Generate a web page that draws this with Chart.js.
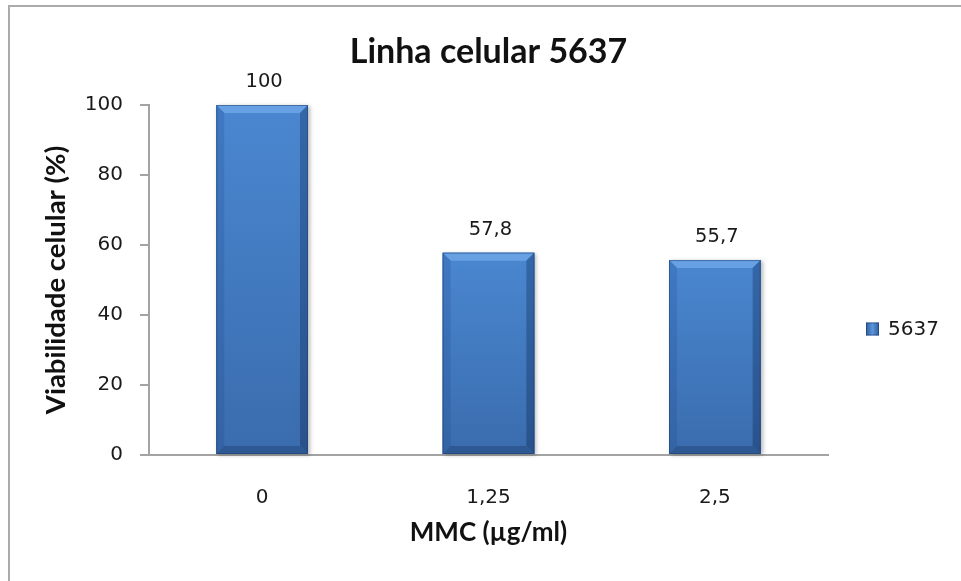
<!DOCTYPE html>
<html>
<head>
<meta charset="utf-8">
<script src="https://cdn.jsdelivr.net/npm/chart.js@4.4.1/dist/chart.umd.min.js"></script>
<style>
  html, body { margin: 0; padding: 0; background: #fff; }
  #wrap { width: 961px; height: 581px; position: relative; }
</style>
</head>
<body>
<div id="wrap"><canvas id="c" width="961" height="581"></canvas></div>
<script>
const chartTitle = 'Linha celular 5637';
const seriesName = '5637';
const categories = ['0', '1,25', '2,5'];
const viability = [100, 57.8, 55.7];
const yTicks = [0, 20, 40, 60, 80, 100];
const xAxisTitle = 'MMC (µg/ml)';
const yAxisTitle = 'Viabilidade celular (%)';

const AXIS_GREY = '#a3a3a3';
const TEXT = '#1a1a1a';
const BOLD_FONT = 'Lato';
const TICK_FONT = 'DejaVu Sans';

function fmt(v) { return String(v).replace('.', ','); }

const frame = {
  id: 'frame',
  beforeDraw(chart) {
    const ctx = chart.ctx;
    ctx.save();
    ctx.fillStyle = '#fff';
    ctx.fillRect(0, 0, chart.width, chart.height);
    ctx.strokeStyle = '#ababab';
    ctx.lineWidth = 2;
    ctx.strokeRect(9, 6, chart.width + 20, chart.height + 20);
    ctx.restore();
  }
};

const bevelBars = {
  id: 'bevelBars',
  afterDatasetsDraw(chart) {
    const ctx = chart.ctx;
    const meta = chart.getDatasetMeta(0);
    meta.data.forEach((bar) => {
      const p = bar.getProps(['x', 'y', 'base', 'width'], true);
      const L = p.x - p.width / 2, R = p.x + p.width / 2, T = p.y, B = p.base;
      const bv = 8;
      ctx.save();
      ctx.shadowColor = 'rgba(0,0,0,0.28)';
      ctx.shadowBlur = 4;
      ctx.shadowOffsetX = 2;
      ctx.shadowOffsetY = 1;
      let g = ctx.createLinearGradient(0, T, 0, B);
      g.addColorStop(0, '#4a87d0');
      g.addColorStop(1, '#3a6cae');
      ctx.fillStyle = g;
      ctx.fillRect(L, T, R - L, B - T);
      ctx.shadowColor = 'transparent';
      ctx.fillStyle = '#67a0e3';
      ctx.beginPath();
      ctx.moveTo(L, T); ctx.lineTo(R, T); ctx.lineTo(R - bv, T + bv); ctx.lineTo(L + bv, T + bv); ctx.closePath();
      ctx.fill();
      g = ctx.createLinearGradient(0, T, 0, B);
      g.addColorStop(0, '#4079c2');
      g.addColorStop(1, '#3363a4');
      ctx.fillStyle = g;
      ctx.beginPath();
      ctx.moveTo(L, T); ctx.lineTo(L + bv, T + bv); ctx.lineTo(L + bv, B - bv); ctx.lineTo(L, B); ctx.closePath();
      ctx.fill();
      g = ctx.createLinearGradient(0, T, 0, B);
      g.addColorStop(0, '#3467a8');
      g.addColorStop(1, '#29528c');
      ctx.fillStyle = g;
      ctx.beginPath();
      ctx.moveTo(R, T); ctx.lineTo(R, B); ctx.lineTo(R - bv, B - bv); ctx.lineTo(R - bv, T + bv); ctx.closePath();
      ctx.fill();
      ctx.fillStyle = '#2d5892';
      ctx.beginPath();
      ctx.moveTo(L, B); ctx.lineTo(L + bv, B - bv); ctx.lineTo(R - bv, B - bv); ctx.lineTo(R, B); ctx.closePath();
      ctx.fill();
      ctx.strokeStyle = 'rgba(30,60,110,0.5)';
      ctx.lineWidth = 1;
      ctx.strokeRect(L + 0.5, T + 0.5, R - L - 1, B - T - 1);
      ctx.restore();
    });
    ctx.save();
    ctx.font = '19.5px "' + TICK_FONT + '"';
    ctx.fillStyle = TEXT;
    ctx.textAlign = 'center';
    ctx.textBaseline = 'middle';
    meta.data.forEach((bar, i) => {
      ctx.fillText(fmt(viability[i]), bar.x + 2, bar.y - 23);
    });
    ctx.restore();
  }
};

const sideLegend = {
  id: 'sideLegend',
  afterDraw(chart) {
    const ctx = chart.ctx;
    const a = chart.chartArea;
    const x = a.right + 38;
    const y = (a.top + a.bottom) / 2 + 49;
    ctx.save();
    const s = 13;
    const g = ctx.createLinearGradient(x, 0, x + s, 0);
    g.addColorStop(0, '#2f5f9e');
    g.addColorStop(0.5, '#5a95dc');
    g.addColorStop(1, '#2f5f9e');
    ctx.fillStyle = g;
    ctx.fillRect(x, y - s / 2, s, s);
    ctx.strokeStyle = 'rgba(30,60,110,0.6)';
    ctx.lineWidth = 1;
    ctx.strokeRect(x + 0.5, y - s / 2 + 0.5, s - 1, s - 1);
    ctx.font = '20px "' + TICK_FONT + '"';
    ctx.fillStyle = TEXT;
    ctx.textAlign = 'left';
    ctx.textBaseline = 'middle';
    ctx.fillText(seriesName, x + 22, y + 1);
    ctx.restore();
  }
};

new Chart(document.getElementById('c'), {
  type: 'bar',
  data: {
    labels: categories,
    datasets: [{
      label: seriesName,
      data: viability,
      backgroundColor: '#4680c6',
      borderWidth: 0,
      categoryPercentage: 1.0,
      barPercentage: 0.405
    }]
  },
  options: {
    responsive: false,
    animation: false,
    devicePixelRatio: 1,
    layout: { padding: { left: 0, right: 133, top: 0, bottom: 0 } },
    plugins: {
      legend: { display: false },
      tooltip: { enabled: false },
      title: {
        display: true,
        text: chartTitle,
        fullSize: false,
        color: '#111',
        font: { family: BOLD_FONT, size: 34, weight: 'bold', lineHeight: 1.2 },
        padding: { top: 32, bottom: 32.2 }
      }
    },
    scales: {
      x: {
        afterFit(s) { s.height = 126; },
        grid: { display: false },
        border: { display: true, color: AXIS_GREY, width: 2 },
        ticks: { color: TEXT, font: { family: TICK_FONT, size: 20 }, padding: 23 },
        title: {
          display: true, text: xAxisTitle, color: '#111',
          font: { family: BOLD_FONT, size: 26, weight: 'bold', lineHeight: 1.2 },
          padding: { top: 0, bottom: 33 }
        }
      },
      y: {
        min: 0, max: 100,
        afterFit(s) { s.width = 149; },
        afterBuildTicks(s) { s.ticks = yTicks.map(v => ({ value: v })); },
        grid: { drawOnChartArea: false, drawTicks: true, tickLength: 9, color: AXIS_GREY, lineWidth: 2 },
        border: { display: true, color: AXIS_GREY, width: 2 },
        ticks: { color: TEXT, font: { family: TICK_FONT, size: 20 }, padding: 17 },
        title: {
          display: true, text: yAxisTitle, color: '#111',
          font: { family: BOLD_FONT, size: 27.5, weight: 'bold', lineHeight: 1.2 },
          padding: { top: 40, bottom: 0 }
        }
      }
    }
  },
  plugins: [frame, bevelBars, sideLegend]
});
</script>
</body>
</html>
